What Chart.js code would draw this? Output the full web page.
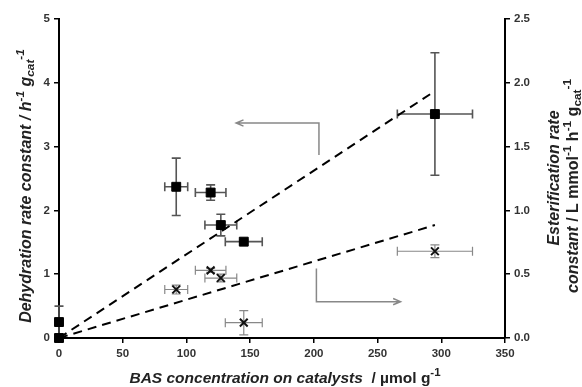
<!DOCTYPE html>
<html>
<head>
<meta charset="utf-8">
<script src="https://cdn.jsdelivr.net/npm/chart.js@4.4.1/dist/chart.umd.min.js"></script>
<style>
    body { margin: 0; background: #fff; }
    #wrap { width: 582px; height: 387px; }
</style>
</head>
<body>
<div id="wrap"><canvas id="rateChart" width="582" height="387"></canvas></div>
<script>
// BAS concentration per catalyst (umol/g) and its uncertainty
const basConc = [0, 0, 92, 119, 127, 145, 295];
const basErr = [0, 0, 9, 12, 12.5, 14.5, 29.5];

// dehydration rate constant (left axis, h-1 gcat-1)
const dehydK = [0, 0.25, 2.37, 2.28, 1.77, 1.51, 3.51];
const dehydErr = [0, 0.25, 0.45, 0.12, 0.17, 0.03, 0.96];

// esterification rate constant (right axis, L mmol-1 h-1 gcat-1)
const esterK = [0, 0, 0.38, 0.53, 0.47, 0.12, 0.68];
const esterErr = [0, 0, 0.035, 0.015, 0.03, 0.095, 0.05];

// linear trend lines through the origin
const dehydFitX = [0, 295];
const dehydFitY = [0, 3.87];
const esterFitX = [0, 295];
const esterFitY = [0, 0.885];

// axis ticks
const xTicks = [0, 50, 100, 150, 200, 250, 300, 350];
const leftTicks = [0, 1, 2, 3, 4, 5];
const rightTicks = [0, 0.5, 1.0, 1.5, 2.0, 2.5];

// arrows pointing each trend line to its axis (data units)
const arrowDehyd = [[204, 2.87], [204, 3.37], [139, 3.37]];
const arrowEster = [[202, 0.545], [202, 0.285], [268, 0.285]];

const toPts = (xs, ys) => xs.map((x, i) => ({ x: x, y: ys[i] }));

// error bars drawn under the markers
const errorBars = {
    id: 'errorBars',
    beforeDatasetsDraw(chart) {
        const ctx = chart.ctx;
        chart.data.datasets.forEach((ds, di) => {
            if (!ds.errX) return;
            const xs = chart.scales.x;
            const ys = chart.scales[ds.yAxisID];
            const cap = 4.5;
            ctx.save();
            ctx.strokeStyle = ds.errColor;
            ctx.lineWidth = ds.errWidth;
            ds.data.forEach((p, i) => {
                const px = xs.getPixelForValue(p.x);
                const py = ys.getPixelForValue(p.y);
                const ex = ds.errX[i], ey = ds.errY[i];
                ctx.beginPath();
                if (ex > 0) {
                    const x1 = xs.getPixelForValue(p.x - ex), x2 = xs.getPixelForValue(p.x + ex);
                    ctx.moveTo(x1, py); ctx.lineTo(x2, py);
                    ctx.moveTo(x1, py - cap); ctx.lineTo(x1, py + cap);
                    ctx.moveTo(x2, py - cap); ctx.lineTo(x2, py + cap);
                }
                if (ey > 0) {
                    const y1 = ys.getPixelForValue(p.y - ey), y2 = ys.getPixelForValue(p.y + ey);
                    ctx.moveTo(px, y1); ctx.lineTo(px, y2);
                    ctx.moveTo(px - cap, y1); ctx.lineTo(px + cap, y1);
                    ctx.moveTo(px - cap, y2); ctx.lineTo(px + cap, y2);
                }
                ctx.stroke();
            });
            ctx.restore();
        });
    }
};

function drawArrow(ctx, pts) {
    ctx.beginPath();
    ctx.moveTo(pts[0][0], pts[0][1]);
    for (let i = 1; i < pts.length; i++) ctx.lineTo(pts[i][0], pts[i][1]);
    const a = pts[pts.length - 1], b = pts[pts.length - 2];
    const ang = Math.atan2(a[1] - b[1], a[0] - b[0]);
    const len = 8;
    ctx.moveTo(a[0] - len * Math.cos(ang - 0.4), a[1] - len * Math.sin(ang - 0.4));
    ctx.lineTo(a[0], a[1]);
    ctx.lineTo(a[0] - len * Math.cos(ang + 0.4), a[1] - len * Math.sin(ang + 0.4));
    ctx.stroke();
}

const arrows = {
    id: 'arrows',
    afterDatasetsDraw(chart) {
        const ctx = chart.ctx, xs = chart.scales.x;
        ctx.save();
        ctx.strokeStyle = '#888';
        ctx.lineWidth = 1.5;
        drawArrow(ctx, arrowDehyd.map(p => [xs.getPixelForValue(p[0]), chart.scales.y.getPixelForValue(p[1])]));
        drawArrow(ctx, arrowEster.map(p => [xs.getPixelForValue(p[0]), chart.scales.y2.getPixelForValue(p[1])]));
        ctx.restore();
    }
};

// text with superscripts / subscripts, centred on the current origin
function drawRich(ctx, parts, size) {
    const fontFor = (p) => {
        const s = p[1] ? size * 0.74 : size;
        return (p[2] ? 'italic ' : '') + 'bold ' + s + 'px "Liberation Sans", Arial, sans-serif';
    };
    let total = 0;
    parts.forEach(p => { ctx.font = fontFor(p); total += ctx.measureText(p[0]).width; });
    let x = -total / 2;
    ctx.textBaseline = 'alphabetic';
    ctx.textAlign = 'left';
    parts.forEach(p => {
        ctx.font = fontFor(p);
        let dy = size * 0.36;
        if (p[1] === 'sup') dy -= size * 0.42;
        if (p[1] === 'sub') dy += size * 0.22;
        ctx.fillText(p[0], x, dy);
        x += ctx.measureText(p[0]).width;
    });
}

const axisTitles = {
    id: 'axisTitles',
    afterDraw(chart) {
        const ctx = chart.ctx;
        ctx.save();
        ctx.fillStyle = '#222';
        // bottom
        ctx.save();
        ctx.translate(285, 377);
        drawRich(ctx, [['BAS concentration on catalysts', '', true], ['  / \u00b5mol g', '', false], ['-1', 'sup', false]], 15.5);
        ctx.restore();
        // left
        ctx.save();
        ctx.translate(25, 186);
        ctx.rotate(-Math.PI / 2);
        drawRich(ctx, [['Dehydration rate constant / h', '', true], ['-1', 'sup', true], [' g', '', true],
            ['cat', 'sub', true], ['-1', 'sup', true]], 16);
        ctx.restore();
        // right, two lines
        ctx.save();
        ctx.translate(553, 178);
        ctx.rotate(-Math.PI / 2);
        drawRich(ctx, [['Esterification rate', '', true]], 16);
        ctx.restore();
        ctx.save();
        ctx.translate(572, 186);
        ctx.rotate(-Math.PI / 2);
        drawRich(ctx, [['constant', '', true], [' / L mmol', '', false], ['-1', 'sup', false], [' h', '', false],
            ['-1', 'sup', false], [' g', '', false], ['cat', 'sub', false], ['-1', 'sup', false]], 16);
        ctx.restore();
        ctx.restore();
    }
};

const tickFont = { family: '"Liberation Sans", Arial, sans-serif', size: 11.5, weight: 'bold' };
const axisGrid = { drawOnChartArea: false, drawTicks: true, tickLength: 5, color: '#000', lineWidth: 1.5 };
const axisBorder = { display: true, color: '#000', width: 2 };

new Chart(document.getElementById('rateChart'), {
    type: 'scatter',
    data: {
        datasets: [
            {
                label: 'Dehydration',
                data: toPts(basConc, dehydK),
                yAxisID: 'y',
                clip: false,
                pointStyle: 'rect',
                pointRadius: 6.3,
                backgroundColor: '#000',
                borderColor: '#000',
                borderWidth: 1,
                errX: basErr, errY: dehydErr, errColor: '#555', errWidth: 1.6
            },
            {
                label: 'Esterification',
                data: toPts(basConc, esterK),
                yAxisID: 'y2',
                clip: false,
                pointStyle: 'crossRot',
                pointRadius: 5.5,
                borderColor: '#111',
                borderWidth: 2,
                errX: basErr, errY: esterErr, errColor: '#888', errWidth: 1.2
            },
            {
                label: 'Dehydration fit',
                data: toPts(dehydFitX, dehydFitY),
                yAxisID: 'y',
                showLine: true,
                borderColor: '#000',
                borderWidth: 2,
                borderDash: [9, 6],
                pointRadius: 0
            },
            {
                label: 'Esterification fit',
                data: toPts(esterFitX, esterFitY),
                yAxisID: 'y2',
                showLine: true,
                borderColor: '#000',
                borderWidth: 2,
                borderDash: [9, 6],
                pointRadius: 0
            }
        ]
    },
    options: {
        responsive: false,
        animation: false,
        layout: { padding: { top: 19, left: 0, right: 0, bottom: 0 } },
        plugins: { legend: { display: false }, tooltip: { enabled: false } },
        scales: {
            x: {
                type: 'linear', position: 'bottom', min: 0, max: 350,
                afterBuildTicks: s => { s.ticks = xTicks.map(v => ({ value: v })); },
                ticks: { font: tickFont, color: '#333', padding: 4 },
                grid: axisGrid, border: axisBorder,
                afterFit: s => { s.height = 49; }
            },
            y: {
                type: 'linear', position: 'left', min: 0, max: 5,
                afterBuildTicks: s => { s.ticks = leftTicks.map(v => ({ value: v })); },
                ticks: { font: tickFont, color: '#333', padding: 4 },
                grid: axisGrid, border: axisBorder,
                afterFit: s => { s.width = 59; }
            },
            y2: {
                type: 'linear', position: 'right', min: 0, max: 2.5,
                afterBuildTicks: s => { s.ticks = rightTicks.map(v => ({ value: v })); },
                ticks: { font: tickFont, color: '#333', padding: 4, callback: v => v.toFixed(1) },
                grid: axisGrid, border: axisBorder,
                afterFit: s => { s.width = 77; }
            }
        }
    },
    plugins: [errorBars, arrows, axisTitles]
});
</script>
</body>
</html>
